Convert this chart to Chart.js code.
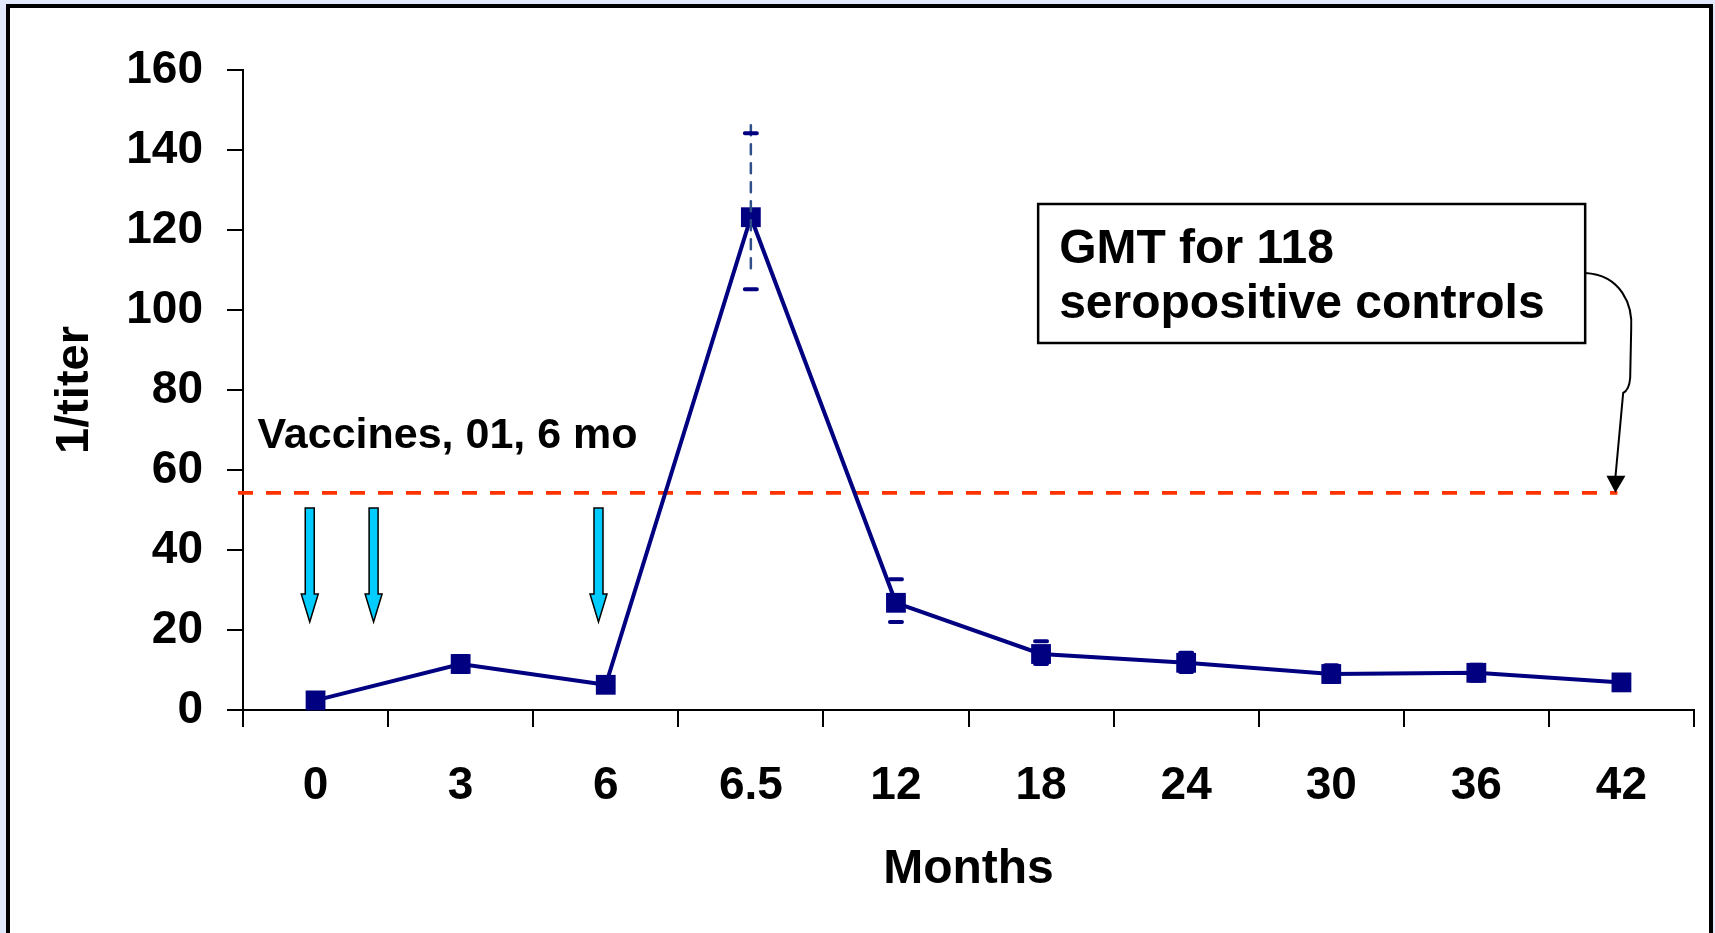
<!DOCTYPE html>
<html>
<head>
<meta charset="utf-8">
<script src="https://cdn.jsdelivr.net/npm/chart.js@4/dist/chart.umd.min.js"></script>
<style>
  html, body { margin: 0; padding: 0; background: #e1e9fa; overflow: hidden; }
  #chart { display: block; }
</style>
</head>
<body>
<canvas id="chart" width="1715" height="933"></canvas>
<script>
/* ================= DATA ================= */

const months = ["0", "3", "6", "6.5", "12", "18", "24", "30", "36", "42"];
const titers = [2.4, 11.5, 6.3, 123.2, 26.8, 14, 11.8, 9, 9.3, 6.9];
const errUpper = [1.8, 2, 1.5, 21, 5.9, 3.2, 2.5, 2.2, 2, 1.5];
const errLower = [1.8, 2, 1.5, 18, 4.8, 2.5, 2.3, 2, 2, 1.5];
const yTicks = [0, 20, 40, 60, 80, 100, 120, 140, 160];

const gmtControls = 54.3;                 // GMT for 118 seropositive controls
const vaccineSlots = [-0.04, 0.4, 1.95];  // vaccine doses (0, 1, 6 mo) on the category axis

const NAVY = "#000080";
const FONT = "'Liberation Sans', Arial, sans-serif";

/* ================= DRAWING HELPERS ================= */

function drawFrame(chart) {
  const ctx = chart.ctx;
  ctx.save();
  ctx.fillStyle = "#e1e9fa";
  ctx.fillRect(0, 0, chart.width, chart.height);
  ctx.fillStyle = "#ffffff";
  ctx.fillRect(6, 4, 1707, chart.height);
  ctx.strokeStyle = "#000000";
  ctx.lineWidth = 4;
  ctx.beginPath();
  ctx.moveTo(8, chart.height + 5);
  ctx.lineTo(8, 6);
  ctx.lineTo(1711, 6);
  ctx.lineTo(1711, chart.height + 5);
  ctx.stroke();
  ctx.restore();
}

function drawGmtLine(chart) {
  const { ctx, chartArea, scales: { x, y } } = chart;
  const py = y.getPixelForValue(gmtControls);
  ctx.save();
  ctx.strokeStyle = "#ff3300";
  ctx.lineWidth = 3.8;
  ctx.setLineDash([15, 13]);
  ctx.beginPath();
  ctx.moveTo(chartArea.left - 5, py);
  ctx.lineTo(x.getPixelForValue(months.length - 1) - 4, py);
  ctx.stroke();
  ctx.restore();
}

function drawVaccineArrows(chart) {
  const { ctx, scales: { x, y } } = chart;
  const top = y.getPixelForValue(50.5);
  const tip = y.getPixelForValue(22);
  const headTop = tip - 28;
  ctx.save();
  ctx.fillStyle = "#00ccff";
  ctx.strokeStyle = "#000000";
  ctx.lineWidth = 1.5;
  vaccineSlots.forEach(slot => {
    const cx = x.getPixelForValue(slot);
    ctx.beginPath();
    ctx.moveTo(cx - 4.5, top);
    ctx.lineTo(cx + 4.5, top);
    ctx.lineTo(cx + 4.5, headTop);
    ctx.lineTo(cx + 8.5, headTop);
    ctx.lineTo(cx, tip);
    ctx.lineTo(cx - 8.5, headTop);
    ctx.lineTo(cx - 4.5, headTop);
    ctx.closePath();
    ctx.fill();
    ctx.stroke();
  });
  ctx.restore();
}

function drawErrorBars(chart) {
  const { ctx, scales: { x, y } } = chart;
  ctx.save();
  titers.forEach((v, i) => {
    const px = x.getPixelForValue(i);
    const hi = y.getPixelForValue(v + errUpper[i]);
    const lo = y.getPixelForValue(v - errLower[i]);

    /* dashed whisker, only visible on the long bar */
    if (errUpper[i] >= 10) {
      ctx.strokeStyle = "#2e4f8a";
      ctx.lineWidth = 2.5;
      ctx.setLineDash([10, 9]);
      ctx.beginPath();
      ctx.moveTo(px, hi - 8);
      ctx.lineTo(px, lo - 20);
      ctx.stroke();
    }

    /* caps */
    ctx.setLineDash([]);
    ctx.strokeStyle = NAVY;
    ctx.lineWidth = 4;
    ctx.lineCap = "round";
    ctx.beginPath();
    ctx.moveTo(px - 6, hi);
    ctx.lineTo(px + 6, hi);
    ctx.moveTo(px - 6, lo);
    ctx.lineTo(px + 6, lo);
    ctx.stroke();
  });
  ctx.restore();
}

function drawNotes(chart) {
  const { ctx, scales: { x, y } } = chart;
  ctx.save();

  /* "Vaccines" label */
  ctx.fillStyle = "#000000";
  ctx.textBaseline = "alphabetic";
  ctx.font = `bold 43px ${FONT}`;
  ctx.fillText("Vaccines, 01, 6 mo", x.getPixelForValue(-0.4), y.getPixelForValue(65.5));

  /* GMT box */
  const bx1 = x.getPixelForValue(4.98);
  const bx2 = x.getPixelForValue(8.75);
  const by1 = y.getPixelForValue(126.5);
  const by2 = y.getPixelForValue(91.75);
  ctx.fillStyle = "#ffffff";
  ctx.fillRect(bx1, by1, bx2 - bx1, by2 - by1);
  ctx.strokeStyle = "#000000";
  ctx.lineWidth = 2.5;
  ctx.strokeRect(bx1, by1, bx2 - bx1, by2 - by1);
  ctx.fillStyle = "#000000";
  ctx.font = `bold 48px ${FONT}`;
  ctx.fillText("GMT for 118", bx1 + 21, by1 + 59);
  ctx.fillText("seropositive controls", bx1 + 21, by1 + 114);

  /* connector arrow down to the GMT line */
  const ex = x.getPixelForValue(months.length - 1) - 6;
  const ey = y.getPixelForValue(gmtControls);
  const sy = by1 + 69;
  ctx.lineWidth = 2;
  ctx.beginPath();
  ctx.moveTo(bx2, sy);
  ctx.bezierCurveTo(bx2 + 36, sy + 2, bx2 + 48, sy + 32, bx2 + 46, sy + 57);
  ctx.lineTo(bx2 + 45, sy + 105);
  ctx.quadraticCurveTo(bx2 + 44, sy + 117, bx2 + 38, sy + 120);
  ctx.lineTo(ex, ey - 16);
  ctx.stroke();
  ctx.beginPath();
  ctx.moveTo(ex - 9, ey - 17);
  ctx.lineTo(ex + 10, ey - 17);
  ctx.lineTo(ex, ey);
  ctx.closePath();
  ctx.fill();

  ctx.restore();
}

const overlay = {
  id: "overlay",
  beforeDraw: drawFrame,
  beforeDatasetsDraw(chart) {
    drawGmtLine(chart);
    drawVaccineArrows(chart);
  },
  afterDatasetsDraw: drawErrorBars,
  afterDraw: drawNotes,
};

/* ================= CHART ================= */

const tickFont = { family: FONT, size: 46, weight: "bold" };

new Chart(document.getElementById("chart"), {
  type: "line",
  data: {
    labels: months,
    datasets: [{
      data: titers,
      borderColor: NAVY,
      borderWidth: 4,
      tension: 0,
      pointStyle: "rect",
      pointRadius: 14,
      pointBackgroundColor: NAVY,
      pointBorderWidth: 0,
      clip: false,
    }],
  },
  options: {
    responsive: false,
    animation: false,
    layout: { padding: { left: 0, top: 70, right: 21, bottom: 0 } },
    plugins: {
      legend: { display: false },
      tooltip: { enabled: false },
    },
    scales: {
      x: {
        offset: true,
        grid: { offset: true, drawOnChartArea: false, tickLength: 17, color: "#000", lineWidth: 2 },
        border: { color: "#000", width: 2 },
        ticks: { font: tickFont, color: "#000", padding: 32, maxRotation: 0, autoSkip: false },
        title: {
          display: true,
          text: "Months",
          color: "#000",
          font: { family: FONT, size: 48, weight: "bold" },
          padding: { top: 0, bottom: 34 },
        },
        afterFit(scale) { scale.height = 223; },
      },
      y: {
        min: 0,
        max: 160,
        afterBuildTicks(scale) { scale.ticks = yTicks.map(v => ({ value: v })); },
        grid: { drawOnChartArea: false, tickLength: 16, color: "#000", lineWidth: 2 },
        border: { color: "#000", width: 2 },
        ticks: { font: tickFont, color: "#000", padding: 24 },
        title: {
          display: true,
          text: "1/titer",
          color: "#000",
          font: { family: FONT, size: 47, weight: "bold" },
          padding: { top: 47, bottom: 0 },
        },
        afterFit(scale) { scale.width = 243; },
      },
    },
  },
  plugins: [overlay],
});
</script>
</body>
</html>
